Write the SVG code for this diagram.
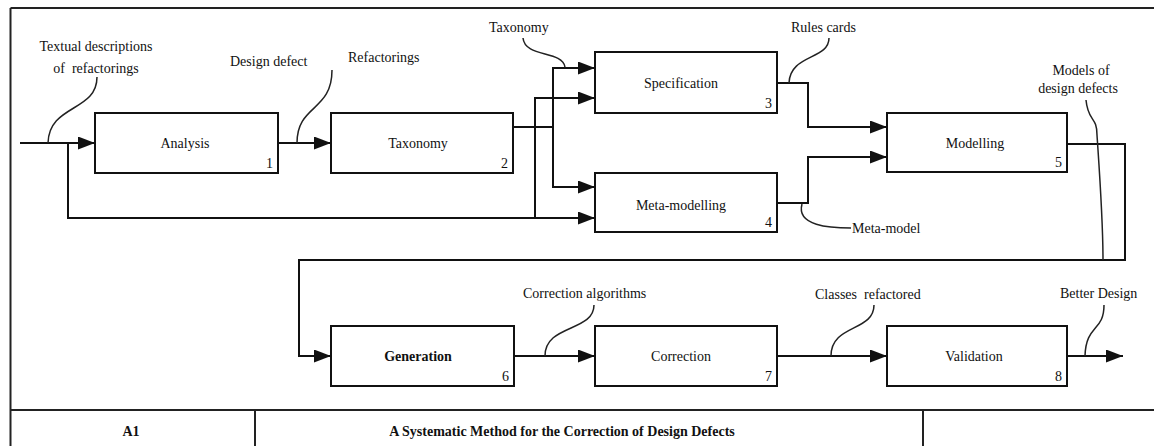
<svg xmlns="http://www.w3.org/2000/svg" width="1154" height="446" viewBox="0 0 1154 446">
  <style>
    .box { fill: #ffffff; stroke: #111111; stroke-width: 2; }
    .wire { fill: none; stroke: #111111; stroke-width: 2; }
    .squiggle { fill: none; stroke: #222222; stroke-width: 1.5; }
    .frame { fill: none; stroke: #222222; stroke-width: 2; }
    text { font-size: 14px; fill: #111111; white-space: pre; }
    .name { text-anchor: middle; }
    .num { text-anchor: end; }
    .bold { font-weight: bold; }
  </style>
  <defs>
    <marker id="arrow" markerUnits="userSpaceOnUse" markerWidth="18" markerHeight="13" refX="17" refY="6.5" orient="auto">
      <path d="M0,0 L17,6.5 L0,13 z" fill="#111111"/>
    </marker>
  </defs>

  <rect width="1154" height="446" fill="#ffffff"/>

  <g font-family="Liberation Serif, DejaVu Serif, Times New Roman, serif">
  <!-- outer frame and title block -->
  <g id="frame">
    <path class="frame" d="M10.5,8 H1154 M10.5,8 V446 M10.5,410 H1154 M255,410 V446 M923,410 V446"/>
    <text class="name bold" x="131" y="436">A1</text>
    <text class="name bold" x="562" y="436">A Systematic Method for the Correction of Design Defects</text>
  </g>

  <!-- connectors -->
  <g id="connectors">
    <path class="wire" d="M20,143 H95" marker-end="url(#arrow)"/>
    <path class="wire" d="M68,143 V218 H595" marker-end="url(#arrow)"/>
    <path class="wire" d="M535,218 V98 H595" marker-end="url(#arrow)"/>
    <path class="wire" d="M278,143 H331" marker-end="url(#arrow)"/>
    <path class="wire" d="M513,127 H553"/>
    <path class="wire" d="M553,127 V68 H595" marker-end="url(#arrow)"/>
    <path class="wire" d="M553,127 V187 H595" marker-end="url(#arrow)"/>
    <path class="wire" d="M777,83 H808 V127 H887" marker-end="url(#arrow)"/>
    <path class="wire" d="M777,203 H808 V157 H887" marker-end="url(#arrow)"/>
    <path class="wire" d="M1067,144 H1125 V260 H299 V356 H331" marker-end="url(#arrow)"/>
    <path class="wire" d="M514,356 H595" marker-end="url(#arrow)"/>
    <path class="wire" d="M777,356 H887" marker-end="url(#arrow)"/>
    <path class="wire" d="M1067,356 H1123" marker-end="url(#arrow)"/>

    <!-- label leaders -->
    <path class="squiggle" d="M97,77 C97,112 49,104 48,143"/>
    <path class="squiggle" d="M332,70 C332,112 297,104 297,143"/>
    <path class="squiggle" d="M523,38 C525,58 562,50 565,67"/>
    <path class="squiggle" d="M829,38 C829,60 790,54 789,83"/>
    <path class="squiggle" d="M802,204 C796,226 830,228 851,228"/>
    <path class="squiggle" d="M1086,100 C1088,122 1097,116 1097,135 C1100,180 1103,220 1103,260"/>
    <path class="squiggle" d="M594,305 C594,332 545,324 545,356"/>
    <path class="squiggle" d="M874,305 C874,332 831,324 831,356"/>
    <path class="squiggle" d="M1104,305 C1104,332 1086,324 1085,356"/>

    <!-- arrow labels -->
    <text class="name" x="96" y="51">Textual descriptions</text>
    <text class="name" x="96" y="73">of  refactorings</text>
    <text x="230" y="66">Design defect</text>
    <text x="348" y="62">Refactorings</text>
    <text x="489" y="32">Taxonomy</text>
    <text x="791" y="32">Rules cards</text>
    <text class="name" x="1081" y="75">Models of</text>
    <text class="name" x="1078" y="93">design defects</text>
    <text x="852" y="233">Meta-model</text>
    <text x="523" y="298">Correction algorithms</text>
    <text x="815" y="299">Classes  refactored</text>
    <text x="1060" y="298">Better Design</text>
  </g>

  <g id="analysis">
    <rect class="box" x="95" y="113" width="183" height="60"/>
    <text class="name" x="185" y="148">Analysis</text>
    <text class="num" x="273" y="168">1</text>
  </g>
  <g id="taxonomy">
    <rect class="box" x="331" y="113" width="182" height="60"/>
    <text class="name" x="418" y="148">Taxonomy</text>
    <text class="num" x="508" y="168">2</text>
  </g>
  <g id="specification">
    <rect class="box" x="595" y="52" width="182" height="61"/>
    <text class="name" x="681" y="88">Specification</text>
    <text class="num" x="772" y="108">3</text>
  </g>
  <g id="meta-modelling">
    <rect class="box" x="595" y="173" width="182" height="59"/>
    <text class="name" x="681" y="210">Meta-modelling</text>
    <text class="num" x="772" y="227">4</text>
  </g>
  <g id="modelling">
    <rect class="box" x="887" y="113" width="180" height="59"/>
    <text class="name" x="975" y="148">Modelling</text>
    <text class="num" x="1062" y="167">5</text>
  </g>
  <g id="generation">
    <rect class="box" x="331" y="326" width="183" height="60"/>
    <text class="name bold" x="418" y="361">Generation</text>
    <text class="num" x="509" y="381">6</text>
  </g>
  <g id="correction">
    <rect class="box" x="595" y="326" width="182" height="60"/>
    <text class="name" x="681" y="361">Correction</text>
    <text class="num" x="772" y="381">7</text>
  </g>
  <g id="validation">
    <rect class="box" x="887" y="326" width="180" height="60"/>
    <text class="name" x="974" y="361">Validation</text>
    <text class="num" x="1062" y="381">8</text>
  </g>
  </g>
</svg>
